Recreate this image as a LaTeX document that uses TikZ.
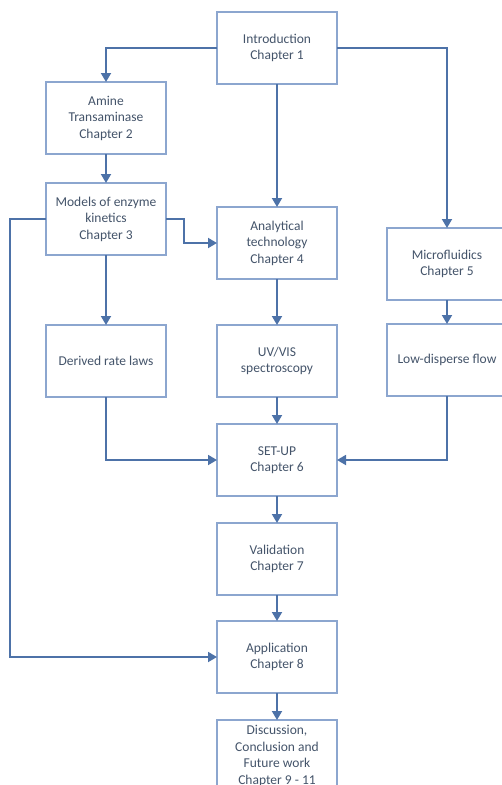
\documentclass[tikz,border=0pt]{standalone}
\usepackage{fontspec}
\setmainfont{Carlito}
\usetikzlibrary{arrows.meta, positioning}

\definecolor{boxline}{HTML}{8CA6CF}
\definecolor{arrowline}{HTML}{4D72A8}
\definecolor{boxtext}{HTML}{44546A}

\begin{document}
\begin{tikzpicture}[
        x=1pt, y=-1pt,
        % Global Styles
        chapter/.style={rectangle, draw=boxline, line width=1.3pt, fill=white, minimum width=120pt, minimum height=72pt, outer sep=0pt, align=center, text=boxtext, inner sep=2pt, font=\fontsize{13.5}{16.5}\selectfont},
        line/.style={draw=arrowline, line width=1.8pt, -{Triangle[length=9pt, width=10pt]}}, % Standard Arrow
    ]
    \useasboundingbox (0,0) rectangle (502,785);

    % --- Nodes ---

    % 1. Middle column
    \node [chapter] (intro) at (277,48) {Introduction\\Chapter 1};
    \node [chapter, below=123pt of intro] (analytical) {Analytical\\technology\\Chapter 4};
    \node [chapter, below=46pt of analytical] (uvvis) {UV/VIS\\spectroscopy};
    \node [chapter, below=27pt of uvvis] (setup) {SET-UP\\Chapter 6};
    \node [chapter, below=27pt of setup] (validation) {Validation\\Chapter 7};
    \node [chapter, below=26pt of validation] (application) {Application\\Chapter 8};
    \node [chapter, below=27pt of application] (discussion) {Discussion,\\Conclusion and\\Future work\\Chapter 9 - 11};

    % 2. Left column
    \node [chapter] (amine) at (106,118) {Amine\\Transaminase\\Chapter 2};
    \node [chapter, below=29pt of amine] (models) {Models of enzyme\\kinetics\\Chapter 3};
    \node [chapter, below=70pt of models] (derived) {Derived rate laws};

    % 3. Right column
    \node [chapter] (micro) at (447,264) {Microfluidics\\Chapter 5};
    \node [chapter, below=24pt of micro] (lowdisp) {Low-disperse flow};

    % --- Paths ---

    % Introduction to the three branches
    \draw [line] (intro.west) -| (amine.north);
    \draw [line] (intro.east) -| (micro.north);
    \draw [line] (intro) -- (analytical);

    % Left branch
    \draw [line] (amine) -- (models);
    \draw [line] (models) -- (derived);
    \draw [line] (models.east) -- ++(18,0) |- (analytical.west);
    \draw [line] (models.west) -- ++(-36,0) |- (application.west);

    % Middle and right branches
    \draw [line] (analytical) -- (uvvis);
    \draw [line] (micro) -- (lowdisp);

    % Into the set-up
    \draw [line] (derived.south) |- (setup.west);
    \draw [line] (uvvis) -- (setup);
    \draw [line] (lowdisp.south) |- (setup.east);

    % Down to the end
    \draw [line] (setup) -- (validation);
    \draw [line] (validation) -- (application);
    \draw [line] (application) -- (discussion);

\end{tikzpicture}
\end{document}
